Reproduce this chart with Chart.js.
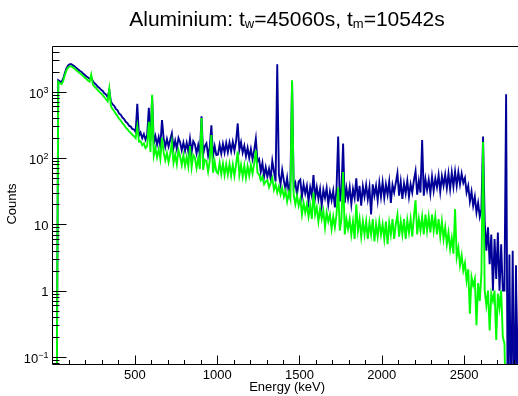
<!DOCTYPE html>
<html>
<head>
<meta charset="utf-8">
<script src="https://cdn.jsdelivr.net/npm/chart.js@4.4.1/dist/chart.umd.min.js"></script>
<style>
html, body { margin: 0; padding: 0; background: #fff; overflow: hidden; }
#spectrum { position: absolute; left: 0; top: 0; }
</style>
</head>
<body>
<canvas id="spectrum" width="530" height="396"></canvas>
<script>
// spectrum, 10 keV bins starting at 0 keV
var binWidth = 10;

var blueCounts = [
    0, 0, 0, 1480, 1420, 1380, 1560, 1900, 2250, 2480,
    2570, 2580, 2470, 2390, 2250, 2160, 2050, 1990, 1870, 1790,
    1690, 1630, 1550, 1650, 1430, 1330, 1270, 1180, 1130, 1060,
    1020, 940, 900, 820, 1050, 700, 640, 610, 545, 520,
    465, 445, 405, 385, 350, 335, 305, 296, 272, 268,
    245, 650, 215, 240, 198, 228, 188, 222, 570, 180,
    850, 165, 212, 158, 206, 150, 370, 198, 146, 192,
    148, 188, 235, 140, 182, 136, 200, 172, 130, 170,
    128, 168, 124, 195, 122, 178, 160, 116, 156, 112,
    425, 112, 150, 165, 108, 146, 310, 106, 150, 110,
    112, 158, 116, 162, 120, 168, 122, 170, 126, 174,
    128, 178, 330, 132, 172, 120, 152, 106, 142, 100,
    136, 96, 130, 195, 88, 96, 62, 84, 52, 72,
    52, 68, 48, 90, 62, 44, 2570, 56, 40, 66,
    46, 34, 50, 30, 45, 1400, 36, 42, 28, 44,
    47, 26, 40, 29, 38, 22, 36, 27, 55, 25,
    36, 24, 34, 19, 33, 25, 35, 20, 31, 23,
    32, 18, 34, 210, 22, 33, 165, 21, 35, 24,
    36, 20, 34, 25, 49, 22, 38, 19, 37, 26,
    39, 24, 36, 14, 40, 27, 38, 23, 42, 26,
    43, 25, 40, 28, 44, 21, 39, 30, 42, 59,
    27, 44, 24, 41, 29, 45, 26, 40, 30, 46,
    63, 28, 45, 30, 185, 27, 48, 33, 47, 29,
    52, 32, 49, 36, 55, 31, 53, 38, 56, 35,
    58, 34, 60, 37, 62, 38, 61, 40, 58, 42,
    50, 30, 38, 22, 31, 19, 26, 15, 21, 13,
    17, 210, 11, 4, 9, 2.5, 7, 1, 6, 1.5,
    7.5, 1, 5, 1, 1, 910, 0, 3.5, 0, 4,
    0, 2.4, 0, 3
];

var greenCounts = [
    0, 0, 0, 1400, 1330, 1290, 1450, 1770, 2090, 2300,
    2390, 2390, 2300, 2200, 2090, 1980, 1900, 1820, 1720, 1630,
    1550, 1470, 1410, 1800, 1270, 1190, 1120, 1050, 990, 935,
    880, 820, 765, 710, 1100, 600, 545, 505, 460, 425,
    385, 365, 332, 312, 285, 270, 250, 238, 222, 212,
    198, 300, 176, 178, 155, 165, 140, 150, 350, 122,
    890, 108, 140, 102, 134, 96, 200, 122, 92, 118,
    86, 114, 170, 84, 112, 80, 130, 106, 78, 110,
    76, 104, 74, 150, 72, 110, 100, 70, 98, 68,
    400, 66, 94, 90, 62, 90, 220, 60, 88, 62,
    58, 84, 57, 82, 55, 80, 56, 81, 54, 79,
    54, 80, 125, 55, 78, 52, 76, 50, 75, 54,
    78, 58, 82, 130, 60, 56, 46, 52, 40, 44,
    46, 36, 42, 50, 33, 40, 30, 37, 28, 35,
    26, 32, 22, 30, 24, 1480, 28, 20, 27, 19,
    24, 14, 21, 15, 20, 13, 19, 12, 30, 14,
    18, 11, 17, 12, 16, 9, 15, 11, 14, 8.5,
    13, 9, 14, 36, 8, 12, 61, 7, 12, 8.5,
    12, 7, 11, 6, 20, 8, 12, 6.5, 11, 7,
    11, 6, 10.5, 7, 12, 5.5, 10, 6.5, 11, 7,
    10, 6, 11, 5, 10.5, 7, 12, 6, 10, 14,
    6.5, 11, 7, 12, 6, 11.5, 7.5, 12, 6.5, 13,
    23, 7, 12, 8, 13, 7, 14, 8, 13, 7.5,
    14, 8, 13, 7, 12, 6.5, 11, 6, 9, 5,
    7.5, 4.2, 6.2, 3.6, 17, 3.2, 4.4, 2.4, 3.4, 2,
    2.6, 1.4, 2.1, 0.45, 1.6, 1.2, 1.5, 0.3, 1.3, 0.7,
    1.8, 174, 1.0, 0.6, 1.0, 0.25, 0.9, 0.7, 1.0, 0.18,
    0.9, 0.55, 1.0, 0.2, 0.16, 0, 0, 0, 0, 0,
    0, 0, 0, 0
];

var xTickLabels = [500, 1000, 1500, 2000, 2500];
var yTickLabels = [
    { value: 0.1, base: '10', exp: '\u22121' },
    { value: 1, base: '1', exp: '' },
    { value: 10, base: '10', exp: '' },
    { value: 100, base: '10', exp: '2' },
    { value: 1000, base: '10', exp: '3' }
];
var titleParts = [
    { text: 'Aluminium: t', sub: false },
    { text: 'w', sub: true },
    { text: '=45060s, t', sub: false },
    { text: 'm', sub: true },
    { text: '=10542s', sub: false }
];
var xTitle = 'Energy (keV)';
var yTitle = 'Counts';

// points at bin centres; empty bins sit below the axis on a log scale
function toPoints(counts) {
    return counts.map(function(c, i) {
        return { x: i * binWidth + binWidth / 2, y: c > 0 ? c : 0.01 };
    });
}

var FONT = '"Liberation Sans", Arial, Helvetica, sans-serif';

// ROOT-like frame: ticks inside, labels with exponents, title with subscripts
var rootFrame = {
    id: 'rootFrame',
    afterDraw: function(chart) {
        var ctx = chart.ctx;
        var a = chart.chartArea;
        var xs = chart.scales.x;
        var ys = chart.scales.y;
        var W = chart.width;
        ctx.save();
        ctx.strokeStyle = '#000';
        ctx.lineWidth = 1;

        ctx.beginPath();
        ctx.moveTo(W, a.top);
        ctx.lineTo(a.left, a.top);
        ctx.lineTo(a.left, a.bottom);
        ctx.lineTo(W, a.bottom);
        ctx.stroke();

        // x ticks every 100 keV, major every 500
        ctx.beginPath();
        for (var e = 100; e < xs.max; e += 100) {
            var px = Math.round(xs.getPixelForValue(e)) + 0.5;
            var len = (e % 500 === 0) ? 9 : 4.5;
            ctx.moveTo(px, a.bottom);
            ctx.lineTo(px, a.bottom - len);
        }
        // y ticks on log decades
        for (var d = -2; d <= 4; d++) {
            for (var m = 1; m <= 9; m++) {
                var v = m * Math.pow(10, d);
                if (v < ys.min || v > ys.max) continue;
                var py = Math.round(ys.getPixelForValue(v)) + 0.5;
                ctx.moveTo(a.left, py);
                ctx.lineTo(a.left + (m === 1 ? 14 : 7), py);
            }
        }
        ctx.stroke();

        ctx.fillStyle = '#000';
        ctx.font = '13px ' + FONT;
        ctx.textAlign = 'center';
        ctx.textBaseline = 'alphabetic';
        xTickLabels.forEach(function(t) {
            ctx.fillText(String(t), xs.getPixelForValue(t), 378.5);
        });

        yTickLabels.forEach(function(t) {
            var py = ys.getPixelForValue(t.value);
            var right = 48.5;
            ctx.textAlign = 'left';
            if (t.exp) {
                ctx.font = '9px ' + FONT;
                var ew = ctx.measureText(t.exp).width;
                ctx.font = '13px ' + FONT;
                var bw = ctx.measureText(t.base).width;
                ctx.fillText(t.base, right - ew - bw, py + 6);
                ctx.font = '9px ' + FONT;
                ctx.fillText(t.exp, right - ew, py + 1);
            } else {
                ctx.font = '13px ' + FONT;
                var w = ctx.measureText(t.base).width;
                ctx.fillText(t.base, right - w, py + 5.5);
            }
        });

        ctx.font = '13px ' + FONT;
        ctx.textAlign = 'center';
        ctx.fillText(xTitle, (a.left + a.right) / 2, 391);

        ctx.save();
        ctx.translate(16, 204);
        ctx.rotate(-Math.PI / 2);
        ctx.fillText(yTitle, 0, 0);
        ctx.restore();

        // title
        var total = 0;
        titleParts.forEach(function(p) {
            ctx.font = (p.sub ? '13px ' : '21px ') + FONT;
            p.w = ctx.measureText(p.text).width;
            total += p.w;
        });
        var tx = 287 - total / 2;
        ctx.textAlign = 'left';
        titleParts.forEach(function(p) {
            ctx.font = (p.sub ? '13px ' : '21px ') + FONT;
            ctx.fillText(p.text, tx, p.sub ? 28 : 26);
            tx += p.w;
        });
        ctx.restore();
    }
};

var spectrumChart = new Chart(document.getElementById('spectrum'), {
    type: 'line',
    data: {
        datasets: [{
            label: 'green',
            data: toPoints(greenCounts),
            borderColor: '#00ff00',
            borderWidth: 1.9,
            clip: 0
        },
        {
            label: 'blue',
            data: toPoints(blueCounts),
            borderColor: '#000099',
            borderWidth: 1.9,
            clip: 0
        }]
    },
    options: {
        responsive: false,
        animation: false,
        devicePixelRatio: 1,
        events: [],
        layout: { padding: { left: 52.5, top: 46.5, right: 8.25, bottom: 31.5 } },
        elements: { point: { radius: 0 }, line: { tension: 0, fill: false } },
        scales: {
            x: { type: 'linear', min: 0, max: 2850, display: false },
            y: { type: 'logarithmic', min: 0.077, max: 4766, display: false }
        },
        plugins: {
            legend: { display: false },
            title: { display: false },
            tooltip: { enabled: false }
        }
    },
    plugins: [rootFrame]
});
</script>
</body>
</html>
